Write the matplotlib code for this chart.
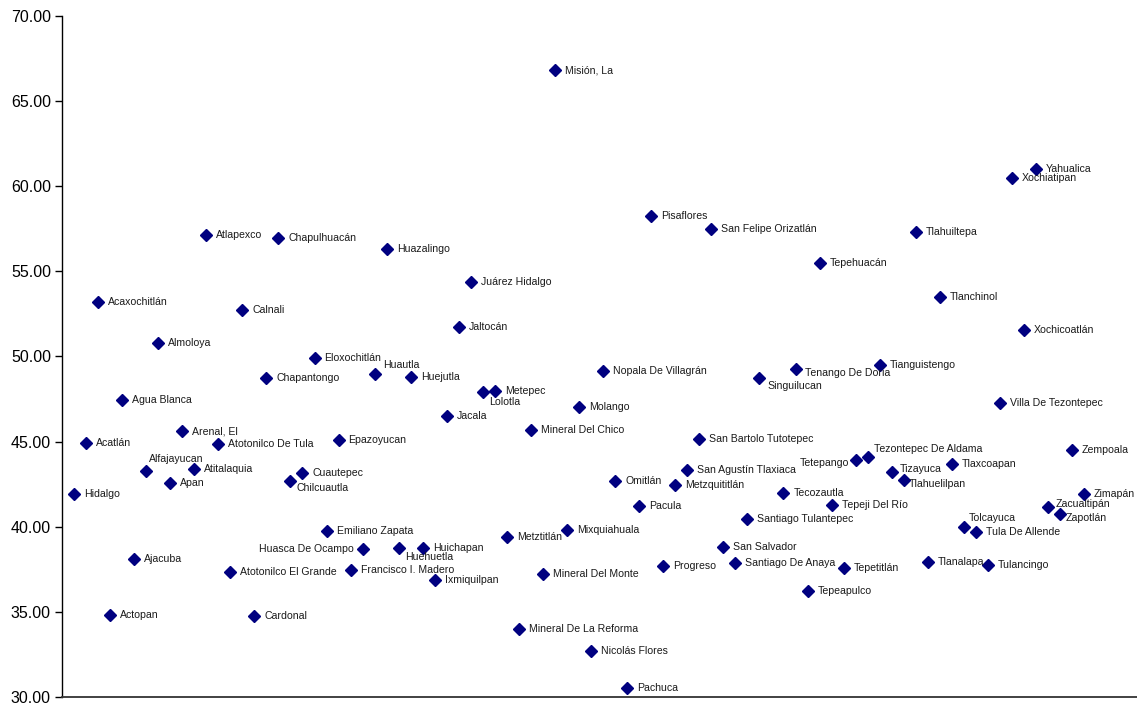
import matplotlib.pyplot as plt
import numpy as np

# datos por municipio (el primero es el estado)
municipios = [
    "Hidalgo", "Acatlán", "Acaxochitlán", "Actopan", "Agua Blanca", "Ajacuba",
    "Alfajayucan", "Almoloya", "Apan", "Arenal, El", "Atitalaquia", "Atlapexco",
    "Atotonilco De Tula", "Atotonilco El Grande", "Calnali", "Cardonal",
    "Chapantongo", "Chapulhuacán", "Chilcuautla", "Cuautepec", "Eloxochitlán",
    "Emiliano Zapata", "Epazoyucan", "Francisco I. Madero", "Huasca De Ocampo",
    "Huautla", "Huazalingo", "Huehuetla", "Huejutla", "Huichapan", "Ixmiquilpan",
    "Jacala", "Jaltocán", "Juárez Hidalgo", "Lolotla", "Metepec", "Metztitlán",
    "Mineral De La Reforma", "Mineral Del Chico", "Mineral Del Monte", "Misión, La",
    "Mixquiahuala", "Molango", "Nicolás Flores", "Nopala De Villagrán", "Omitlán",
    "Pachuca", "Pacula", "Pisaflores", "Progreso", "Metzquititlán",
    "San Agustín Tlaxiaca", "San Bartolo Tutotepec", "San Felipe Orizatlán",
    "San Salvador", "Santiago De Anaya", "Santiago Tulantepec", "Singuilucan",
    "Tasquillo", "Tecozautla", "Tenango De Doria", "Tepeapulco", "Tepehuacán",
    "Tepeji Del Río", "Tepetitlán", "Tetepango", "Tezontepec De Aldama",
    "Tianguistengo", "Tizayuca", "Tlahuelilpan", "Tlahuiltepa", "Tlanalapa",
    "Tlanchinol", "Tlaxcoapan", "Tolcayuca", "Tula De Allende", "Tulancingo",
    "Villa De Tezontepec", "Xochiatipan", "Xochicoatlán", "Yahualica",
    "Zacualtipán", "Zapotlán", "Zempoala", "Zimapán",
]
valores = [
    41.90, 44.91, 53.19, 34.80, 47.42, 38.12,
    43.29, 50.79, 42.58, 45.60, 43.37, 57.13,
    44.84, 37.36, 52.72, 34.76,
    48.73, 56.95, 42.70, 43.13, 49.91,
    39.75, 45.11, 37.44, 38.67,
    48.99, 56.31, 38.73, 48.77, 38.77, 36.89,
    46.51, 51.73, 54.37, 47.91, 47.99, 39.40,
    33.99, 45.66, 37.22, 66.82,
    39.81, 47.06, 32.72, 49.13, 42.70,
    30.51, 41.23, 58.24, 37.71, 42.45,
    43.35, 45.17, 57.48,
    38.83, 37.89, 40.47, 48.75,
    np.nan, 41.98, 49.24, 36.22, 55.48,
    41.25, 37.59, 43.95, 44.07,
    49.49, 43.19, 42.74, 57.34, 37.93,
    53.51, 43.71, 39.98, 39.71, 37.78,
    47.26, 60.46, 51.55, 61.02,
    41.14, 40.75, 44.50, 41.92,
]
yticks = [30, 35, 40, 45, 50, 55, 60, 65, 70]

# colocacion de etiquetas que no van a la derecha (dx, dy en pixeles, alineacion)
ajustes = {
    "Alfajayucan": (3, 12, "left"),
    "Chilcuautla": (6, -7, "left"),
    "Huasca De Ocampo": (-9, 0, "right"),
    "Huehuetla": (6, -9, "left"),
    "Lolotla": (6, -10, "left"),
    "Huautla": (8, 9, "left"),
    "Singuilucan": (8, -8, "left"),
    "Tenango De Doria": (9, -4, "left"),
    "Tetepango": (-7, -3, "right"),
    "Tezontepec De Aldama": (6, 8, "left"),
    "Tizayuca": (8, 3, "left"),
    "Tlahuelilpan": (5, -4, "left"),
    "Tolcayuca": (5, 9, "left"),
    "Zacualtipán": (8, 3, "left"),
    "Zapotlán": (6, -4, "left"),
}

plt.rcParams["font.family"] = ["Liberation Sans", "DejaVu Sans"]

fig = plt.figure(figsize=(11.37, 7.05), dpi=100)
ax = fig.add_axes([62 / 1137, 8 / 705, 1 - 62 / 1137, 681 / 705])

x = np.arange(1, len(municipios) + 1)
y = np.array(valores, dtype=float)
ax.plot(x, y, linestyle="none", marker="D", markersize=5.8, color="#000080")

for xi, yi, nombre in zip(x, y, municipios):
    if np.isnan(yi):
        continue
    dx, dy, ha = ajustes.get(nombre, (10, 0, "left"))
    ax.annotate(nombre, (xi, yi), xytext=(dx, dy), textcoords="offset pixels",
                ha=ha, va="center", fontsize=7.6, color="#1a1a1a",
                annotation_clip=False)

ax.set_xlim(0, 89.4)
ax.set_ylim(30, 70)
ax.set_yticks(yticks)
ax.set_yticklabels([f"{v:.2f}" for v in yticks], fontsize=11.5)
ax.set_xticks([])
ax.tick_params(axis="y", direction="out", length=5, width=1, pad=3)
for lado in ["top", "right"]:
    ax.spines[lado].set_visible(False)
ax.spines["left"].set_linewidth(1)
ax.spines["bottom"].set_linewidth(1.3)
ax.spines["bottom"].set_color("#333333")

fig.savefig("out.png", dpi=100)
